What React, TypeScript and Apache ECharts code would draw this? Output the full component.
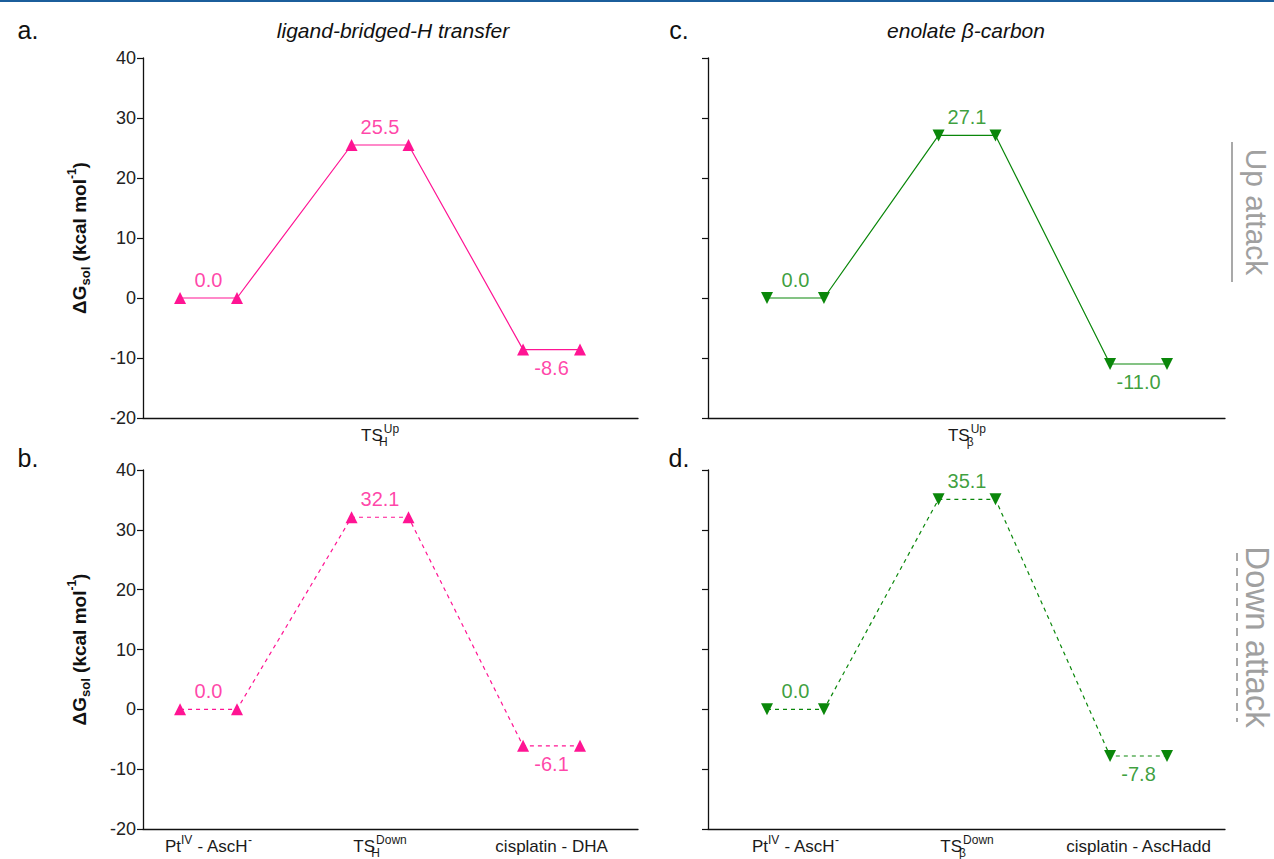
import React, { useEffect, useRef } from 'react';
import * as echarts from 'echarts';

// ---- data ----
const statePositions = [1, 2, 3];
const upH = [0.0, 25.5, -8.6];
const downH = [0.0, 32.1, -6.1];
const upBeta = [0.0, 27.1, -11.0];
const downBeta = [0.0, 35.1, -7.8];

const yTicks = { min: -20, max: 40, interval: 10 };

const labelsUpH = ['', '{t|TS}{subz|H}{sup|Up}', ''];
const labelsDownH = ['{t|Pt}{sup|IV}{t| - AscH}{sup|-}', '{t|TS}{subz|H}{sup|Down}', '{t|cisplatin - DHA}'];
const labelsUpBeta = ['', '{t|TS}{subz|β}{sup|Up}', ''];
const labelsDownBeta = ['{t|Pt}{sup|IV}{t| - AscH}{sup|-}', '{t|TS}{subz|β}{sup|Down}', '{t|cisplatin - AscHadd}'];

const yName = '{b|ΔG}{bs|sol}{b| (kcal mol}{bp|-1}{b|)}';

// ---- styles ----
const FONT = '"Liberation Sans", Arial, Helvetica, sans-serif';
const PINK = '#ff1493';
const GREEN = '#0a870a';
const HALF = 0.166;

const richX = {
  t: { fontSize: 17, color: '#1a1a1a', fontFamily: FONT, lineHeight: 25 },
  sup: { fontSize: 12, color: '#1a1a1a', fontFamily: FONT, verticalAlign: 'top' },
  subz: { fontSize: 12, color: '#1a1a1a', fontFamily: FONT, verticalAlign: 'bottom', width: 1 },
};

const richY = {
  b: { fontSize: 19, fontWeight: 'bold', color: '#111', fontFamily: FONT, lineHeight: 26 },
  bs: { fontSize: 13, fontWeight: 'bold', color: '#111', fontFamily: FONT, verticalAlign: 'bottom' },
  bp: { fontSize: 12, fontWeight: 'bold', color: '#111', fontFamily: FONT, verticalAlign: 'top' },
};

type Panel = {
  values: number[];
  labels: string[];
  color: string;
  dashed: boolean;
  down: boolean;
  grid: { left: number; top: number; width: number; height: number };
  xMin: number;
  showY: boolean;
};

const panels: Panel[] = [
  { values: upH, labels: labelsUpH, color: PINK, dashed: false, down: false, grid: { left: 143, top: 58, width: 495, height: 360 }, xMin: 0.618, showY: true },
  { values: downH, labels: labelsDownH, color: PINK, dashed: true, down: false, grid: { left: 143, top: 470, width: 495, height: 359 }, xMin: 0.618, showY: true },
  { values: upBeta, labels: labelsUpBeta, color: GREEN, dashed: false, down: true, grid: { left: 708, top: 58, width: 517, height: 360 }, xMin: 0.49, showY: false },
  { values: downBeta, labels: labelsDownBeta, color: GREEN, dashed: true, down: true, grid: { left: 708, top: 470, width: 517, height: 359 }, xMin: 0.49, showY: false },
];

function buildOption() {
  const grids: any[] = [];
  const xAxes: any[] = [];
  const yAxes: any[] = [];
  const series: any[] = [];
  panels.forEach((p, i) => {
    grids.push({ ...p.grid, containLabel: false });
    xAxes.push({
      type: 'value',
      gridIndex: i,
      min: p.xMin,
      max: 3.504,
      splitLine: { show: false },
      axisTick: { show: false },
      axisLine: { show: true, onZero: false, lineStyle: { color: '#111', width: 1.3 } },
      axisLabel: {
        show: true,
        customValues: statePositions,
        margin: 5,
        formatter: (v: number) => p.labels[Math.round(v) - 1] || '',
        rich: richX,
      },
    });
    yAxes.push({
      type: 'value',
      gridIndex: i,
      min: yTicks.min,
      max: yTicks.max,
      interval: yTicks.interval,
      splitLine: { show: false },
      axisLine: { show: true, onZero: false, lineStyle: { color: '#111', width: 1.3 } },
      axisTick: { show: true, inside: false, length: 6, lineStyle: { color: '#111', width: 1.2 } },
      axisLabel: { show: p.showY, fontSize: 18, color: '#222', fontFamily: FONT, margin: 7 },
      name: p.showY ? yName : '',
      nameLocation: 'middle',
      nameGap: 51,
      nameTextStyle: { rich: richY },
    });
    const pts: number[][] = [];
    p.values.forEach((v, k) => {
      pts.push([statePositions[k] - HALF, v]);
      pts.push([statePositions[k] + HALF, v]);
    });
    series.push({
      type: 'line',
      xAxisIndex: i,
      yAxisIndex: i,
      data: pts,
      symbol: 'triangle',
      symbolSize: 12,
      symbolRotate: p.down ? 180 : 0,
      itemStyle: { color: p.color },
      lineStyle: { color: p.color, width: 1.2, type: p.dashed ? [4, 4] : 'solid' },
      silent: true,
    });
    series.push({
      type: 'scatter',
      xAxisIndex: i,
      yAxisIndex: i,
      symbolSize: 0,
      data: p.values.map((v, k) => ({
        value: [statePositions[k], v],
        label: { position: v < 0 ? 'bottom' : 'top' },
      })),
      label: {
        show: true,
        distance: 8,
        fontSize: 20,
        fontFamily: FONT,
        color: p.color,
        formatter: (d: any) => d.value[1].toFixed(1),
      },
      silent: true,
    });
  });

  const graphic: any[] = [
    { type: 'rect', shape: { x: 0, y: 0, width: 1274, height: 2 }, style: { fill: '#1b5e9b' } },
    { type: 'text', x: 28, y: 30, style: { text: 'a.', font: `25px ${FONT}`, fill: '#111', align: 'center', verticalAlign: 'middle' } },
    { type: 'text', x: 28, y: 458, style: { text: 'b.', font: `25px ${FONT}`, fill: '#111', align: 'center', verticalAlign: 'middle' } },
    { type: 'text', x: 679, y: 30, style: { text: 'c.', font: `25px ${FONT}`, fill: '#111', align: 'center', verticalAlign: 'middle' } },
    { type: 'text', x: 679, y: 458, style: { text: 'd.', font: `25px ${FONT}`, fill: '#111', align: 'center', verticalAlign: 'middle' } },
    { type: 'text', x: 393, y: 30, style: { text: 'ligand-bridged-H transfer', font: `italic 21px ${FONT}`, fill: '#111', align: 'center', verticalAlign: 'middle' } },
    { type: 'text', x: 966, y: 30, style: { text: 'enolate β-carbon', font: `italic 21px ${FONT}`, fill: '#111', align: 'center', verticalAlign: 'middle' } },
    { type: 'line', shape: { x1: 1232, y1: 142, x2: 1232, y2: 282 }, style: { stroke: '#8c8c8c', lineWidth: 1.5 } },
    { type: 'line', shape: { x1: 1237, y1: 553, x2: 1237, y2: 722 }, style: { stroke: '#8c8c8c', lineWidth: 1.5, lineDash: [8, 7] } },
    { type: 'text', x: 1256, y: 212, rotation: -Math.PI / 2, style: { text: 'Up attack', font: `30px ${FONT}`, fill: '#a0a0a0', align: 'center', verticalAlign: 'middle' } },
    { type: 'text', x: 1257, y: 637, rotation: -Math.PI / 2, style: { text: 'Down attack', font: `33px ${FONT}`, fill: '#a0a0a0', align: 'center', verticalAlign: 'middle' } },
  ];

  return {
    animation: false,
    backgroundColor: '#ffffff',
    grid: grids,
    xAxis: xAxes,
    yAxis: yAxes,
    series,
    graphic,
  };
}

export default function App() {
  const ref = useRef<HTMLDivElement>(null);
  useEffect(() => {
    if (!ref.current) return;
    const chart = echarts.init(ref.current, undefined, { renderer: 'svg' });
    chart.setOption(buildOption() as any);
    return () => chart.dispose();
  }, []);
  return <div ref={ref} style={{ position: 'fixed', left: 0, top: 0, width: 1274, height: 859 }} />;
}
